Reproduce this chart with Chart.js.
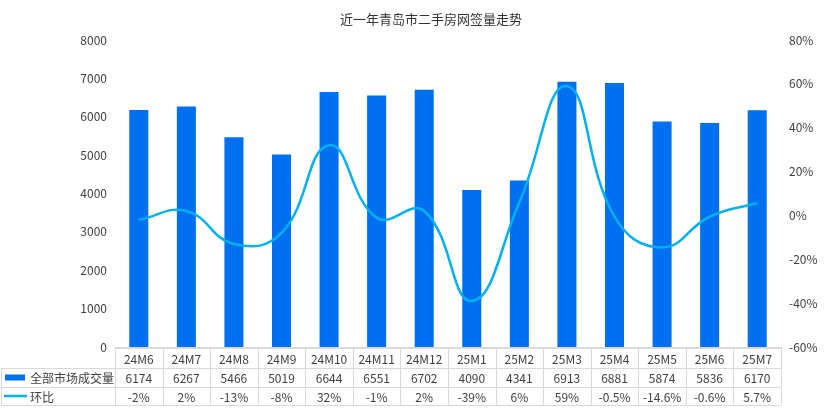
<!DOCTYPE html>
<html><head><meta charset="utf-8">
<script src="https://cdn.jsdelivr.net/npm/chart.js@4"></script>
<style>html,body{margin:0;padding:0;background:#fff}#wrap{width:824px;height:417px}</style>
</head><body><div id="wrap"><canvas id="c" width="824" height="417"></canvas></div>
<script>
const title = '近一年青岛市二手房网签量走势';
const categories = ['24M6','24M7','24M8','24M9','24M10','24M11','24M12','25M1','25M2','25M3','25M4','25M5','25M6','25M7'];
const volumeName = '全部市场成交量';
const volume = [6174,6267,5466,5019,6644,6551,6702,4090,4341,6913,6881,5874,5836,6170];
const momName = '环比';
const mom = [-2,2,-13,-8,32,-1,2,-39,6,59,-0.5,-14.6,-0.6,5.7];
const momLabels = ['-2%','2%','-13%','-8%','32%','-1%','2%','-39%','6%','59%','-0.5%','-14.6%','-0.6%','5.7%'];
const leftTicks = {min:0,max:8000,step:1000};
const rightTicks = {min:-60,max:80,step:20};

const FONT = '"Noto Sans CJK SC", "Noto Sans", sans-serif';
const BAR = '#0070F0';
const LINE = '#00B0F0';
const TXT = '#404040';

const tablePlugin = {
  id:'tablePlugin',
  afterDraw(chart){
    const ctx = chart.ctx, x = chart.scales.x, ca = chart.chartArea;
    const step = x.getPixelForValue(1) - x.getPixelForValue(0);
    const left = x.getPixelForValue(0) - step/2;
    const right = x.getPixelForValue(categories.length-1) + step/2;
    const r0 = ca.bottom + 1, r1 = r0 + 20, r2 = r1 + 19, r3 = r2 + 18;
    ctx.save();
    ctx.strokeStyle = '#d9d9d9'; ctx.lineWidth = 1;
    ctx.beginPath();
    ctx.moveTo(left, r0+0.5); ctx.lineTo(right, r0+0.5);
    ctx.moveTo(1, r1+0.5); ctx.lineTo(right, r1+0.5);
    ctx.moveTo(1, r2+0.5); ctx.lineTo(right, r2+0.5);
    ctx.moveTo(1, r3+0.5); ctx.lineTo(right, r3+0.5);
    ctx.moveTo(1.5, r1); ctx.lineTo(1.5, r3);
    for (let i=0;i<=categories.length;i++){
      const px = Math.round(left + i*step) + 0.5;
      ctx.moveTo(px, r0); ctx.lineTo(px, r3);
    }
    ctx.stroke();
    ctx.font = '12px ' + FONT;
    ctx.fillStyle = TXT; ctx.textAlign = 'center'; ctx.textBaseline = 'middle';
    categories.forEach((c,i)=>{
      const cx = x.getPixelForValue(i);
      ctx.fillText(c, cx, (r0+r1)/2+1);
      ctx.fillText(String(volume[i]), cx, (r1+r2)/2+1);
      ctx.fillText(momLabels[i], cx, (r2+r3)/2+1);
    });
    ctx.textAlign = 'left';
    ctx.fillText(volumeName, 30, (r1+r2)/2+1);
    ctx.fillText(momName, 30, (r2+r3)/2+1);
    ctx.fillStyle = BAR; ctx.fillRect(5, (r1+r2)/2-3, 20, 6);
    ctx.strokeStyle = LINE; ctx.lineWidth = 2.5;
    ctx.beginPath(); ctx.moveTo(4,(r2+r3)/2); ctx.lineTo(27,(r2+r3)/2); ctx.stroke();
    ctx.font = '13px ' + FONT; ctx.fillStyle = '#333'; ctx.textAlign = 'center';
    ctx.fillText(title, 431, 19);
    ctx.restore();
  }
};

new Chart(document.getElementById('c'), {
  data:{
    labels: categories,
    datasets:[
      {type:'line', label:momName, data:mom, yAxisID:'y1', borderColor:LINE, borderWidth:2.5,
       pointRadius:0, tension:0.45, order:0},
      {type:'bar', label:volumeName, data:volume, yAxisID:'y', backgroundColor:BAR,
       categoryPercentage:1, barPercentage:0.4, order:1}
    ]
  },
  options:{
    responsive:false, animation:false, maintainAspectRatio:false,
    layout:{padding:{top:40,left:0,right:0,bottom:0}},
    plugins:{legend:{display:false}, title:{display:false}, tooltip:{enabled:false}},
    scales:{
      x:{display:true, ticks:{display:false}, grid:{display:false, drawTicks:false},
         border:{color:'#d9d9d9', width:1},
         afterFit(s){ s.height = 70; }},
      y:{position:'left', min:leftTicks.min, max:leftTicks.max,
         ticks:{stepSize:leftTicks.step, color:TXT, font:{family:FONT,size:12}, padding:8,
                callback:v=>String(v)},
         grid:{display:false, drawTicks:false}, border:{display:false},
         afterFit(s){ s.width = 115; }},
      y1:{position:'right', min:rightTicks.min, max:rightTicks.max,
         ticks:{stepSize:rightTicks.step, color:TXT, font:{family:FONT,size:12}, padding:8,
                callback:v=>v+'%'},
         grid:{display:false, drawTicks:false}, border:{display:false},
         afterFit(s){ s.width = 43; }}
    }
  },
  plugins:[tablePlugin]
});
</script></body></html>
